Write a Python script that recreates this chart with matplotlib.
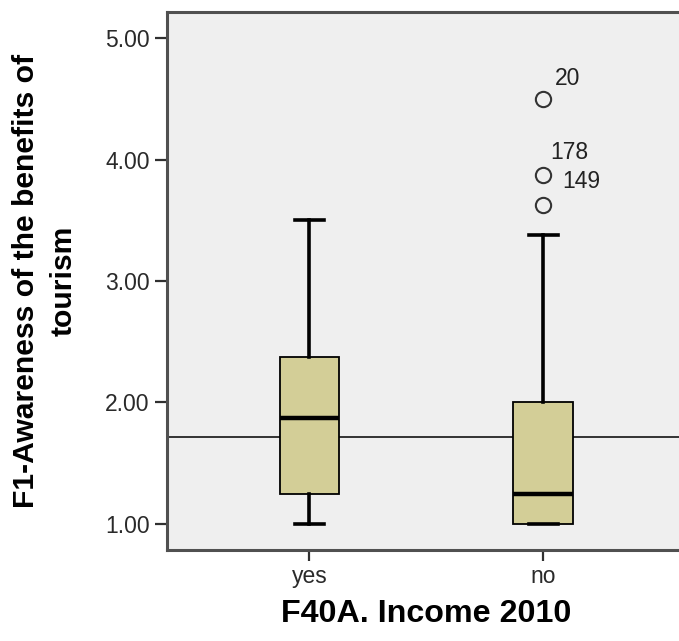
import matplotlib
matplotlib.use("Agg")
import matplotlib.pyplot as plt

categories = ["yes", "no"]
whisker_low = [1.0, 1.0]
q1 = [1.25, 1.0]
median = [1.875, 1.25]
q3 = [2.375, 2.0]
whisker_high = [3.5, 3.375]
fliers = [[], [4.5, 3.875, 3.625]]
outlier_labels = ["20", "178", "149"]
reference_line = 1.716
yticks = [1.0, 2.0, 3.0, 4.0, 5.0]

plt.rcParams['font.family'] = ['Liberation Sans', 'DejaVu Sans']

fig = plt.figure(figsize=(6.79, 6.41), dpi=100)
ax = fig.add_axes([167/679, (641-550)/641, 1 - 167/679 + 0.01, (550-12)/641])
ax.set_facecolor('#EFEFEF')

stats = []
for i, c in enumerate(categories):
    stats.append(dict(label=c, whislo=whisker_low[i], q1=q1[i], med=median[i],
                      q3=q3[i], whishi=whisker_high[i], fliers=fliers[i]))

positions = [1, 2]
ax.bxp(stats, positions=positions, widths=0.254, patch_artist=True,
       showfliers=True,
       boxprops=dict(facecolor='#D3CE97', edgecolor='black', linewidth=1.3),
       medianprops=dict(color='black', linewidth=3.2),
       whiskerprops=dict(color='black', linewidth=2.6),
       capprops=dict(color='black', linewidth=2.6),
       capwidths=0.125,
       flierprops=dict(marker='o', markersize=11, markerfacecolor='none',
                       markeredgecolor='#333333', markeredgewidth=1.5))

ax.axhline(reference_line, color='black', linewidth=1.1, zorder=1)

# outlier labels (SPSS case numbers), offsets in points
offsets = [(8.6, 10), (5, 11.5), (13.7, -9.4)]
pts = [(2, fliers[1][0]), (2, fliers[1][1]), (2, fliers[1][1])]
for lab, (x, y), off in zip(outlier_labels, pts, offsets):
    ax.annotate(lab, xy=(x, y), xytext=off, textcoords='offset points',
                fontsize=16.5, color='#222222', ha='left', va='baseline')

ax.set_xlim(0.391, 2.61)
ax.set_ylim(0.786, 5.214)
ax.set_yticks(yticks)
ax.set_yticklabels([f"{v:.2f}" for v in yticks])
ax.set_xticks(positions)
ax.set_xticklabels(categories)

for s in ['left', 'bottom', 'top']:
    ax.spines[s].set_color('#505050')
    ax.spines[s].set_linewidth(2.2)
ax.spines['right'].set_visible(False)

ax.tick_params(axis='y', direction='out', length=9, width=1.6, color='#303030',
               labelsize=16.5, labelcolor='#2a2a2a', pad=3.5)
ax.tick_params(axis='x', direction='out', length=8, width=1.6, color='#303030',
               labelsize=16.5, labelcolor='#2a2a2a', pad=3)

ax.set_xlabel("F40A. Income 2010", fontsize=23.2, fontweight='bold', labelpad=8)
ax.set_ylabel("F1-Awareness of the benefits of\ntourism", fontsize=21.7,
              fontweight='bold', labelpad=20, linespacing=1.4)

fig.savefig("out.png", dpi=100, facecolor='white')
